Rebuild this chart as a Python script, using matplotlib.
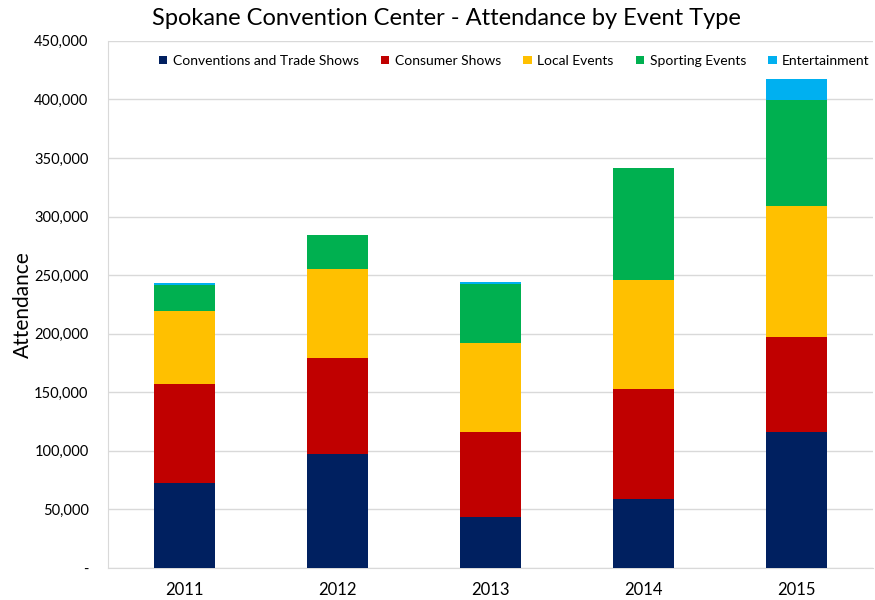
import matplotlib.pyplot as plt
from matplotlib.ticker import FuncFormatter
from matplotlib.transforms import ScaledTranslation

# attendance data
years = ["2011", "2012", "2013", "2014", "2015"]
conventions = [72200, 96900, 43500, 58500, 116500]
consumer = [84900, 82100, 73000, 94300, 80700]
local = [62200, 76400, 75800, 92700, 111600]
sporting = [22500, 29000, 49700, 95700, 90700]
entertainment = [1400, 0, 1800, 0, 17900]

series_names = ["Conventions and Trade Shows", "Consumer Shows", "Local Events",
                "Sporting Events", "Entertainment"]
colors = ["#002060", "#C00000", "#FFC000", "#00B050", "#00B0F0"]

plt.rcParams['font.family'] = ['Lato', 'DejaVu Sans']

fig = plt.figure(figsize=(8.75, 6.0), dpi=100)
ax = fig.add_axes([0.1234, 0.0533, 0.8743, 0.8787])

x = list(range(len(years)))
bottom = [0] * len(years)
for name, vals, col in zip(series_names,
                           [conventions, consumer, local, sporting, entertainment],
                           colors):
    ax.bar(x, vals, width=0.4, bottom=bottom, color=col, label=name, zorder=3)
    bottom = [b + v for b, v in zip(bottom, vals)]

ax.set_xlim(-0.5, 4.5)
ax.set_ylim(0, 450000)
ax.set_yticks(range(0, 450001, 50000))
ax.yaxis.set_major_formatter(FuncFormatter(lambda v, p: "-" if v == 0 else f"{int(v):,}"))
ax.set_xticks(x)
ax.set_xticklabels(years, fontsize=12)
# the category labels in the original drift a little right of the bars
for i, lbl in enumerate(ax.get_xticklabels()):
    lbl.set_transform(lbl.get_transform() + ScaledTranslation((2 + 5.4 * i) / 100, 0, fig.dpi_scale_trans))
ax.tick_params(axis='y', labelsize=10.5, length=0, pad=14)
ax.tick_params(axis='x', length=0, pad=10)

ax.grid(axis='y', color='#D9D9D9', linewidth=1, zorder=0)
for s in ["top", "right"]:
    ax.spines[s].set_visible(False)
ax.spines["left"].set_color('#D9D9D9')
ax.spines["bottom"].set_color('#D9D9D9')

ax.set_ylabel("Attendance", fontsize=15, labelpad=1)
fig.text(0.51, 0.969, "Spokane Convention Center - Attendance by Event Type",
         ha='center', va='center', fontsize=17)

ax.legend(loc='upper left', bbox_to_anchor=(0.05, 0.997), ncol=5, frameon=False,
          fontsize=10, handlelength=0.6, handleheight=0.6, handletextpad=0.4,
          columnspacing=1.6, borderaxespad=0.5)

fig.savefig("out.png", dpi=100)
